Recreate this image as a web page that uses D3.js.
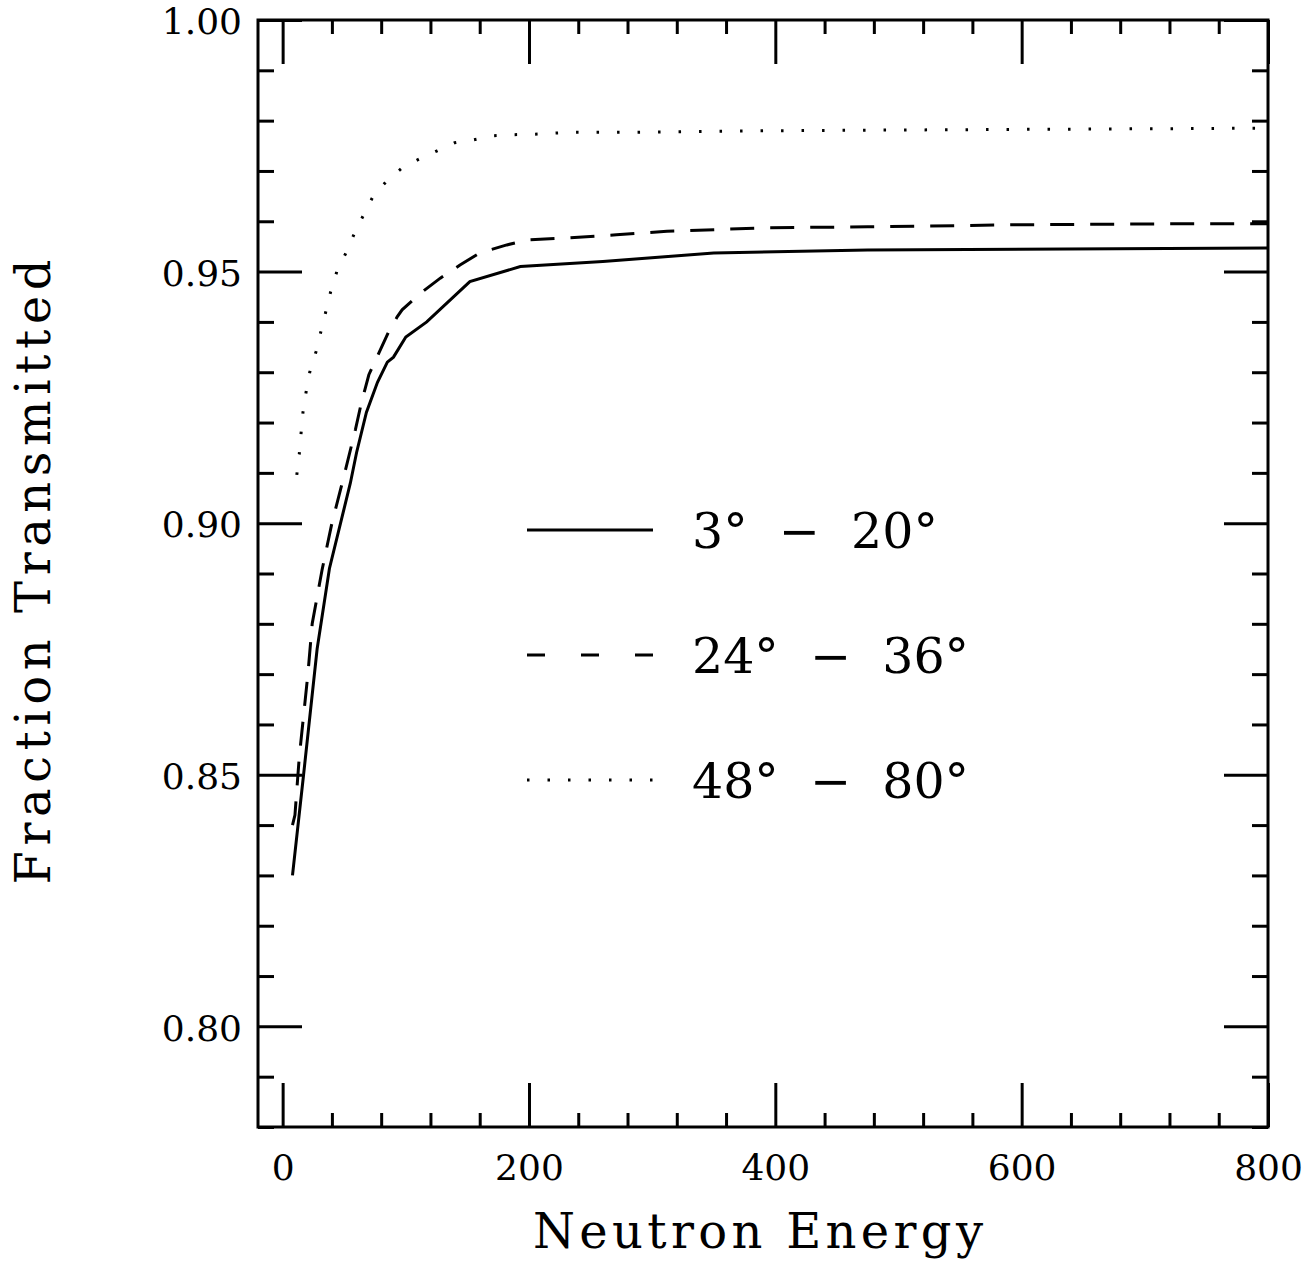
<!DOCTYPE html>
<html>
<head>
<meta charset="utf-8">
<script src="https://cdn.jsdelivr.net/npm/d3@7"></script>
<style>
  body { margin: 0; background: #fff; }
  svg { display: block; }
</style>
</head>
<body>
<div id="chart"></div>
<script>
// values
const energySolid = [8, 17, 28, 38, 50, 55, 60, 68, 77, 85, 90, 100, 117, 152, 193, 260, 350, 475, 800]
const fracSolid = [0.830, 0.850, 0.875, 0.891, 0.903, 0.908, 0.914, 0.922, 0.928, 0.932, 0.933, 0.937, 0.940, 0.948, 0.951, 0.952, 0.9537, 0.9543, 0.9547]

const energyDashed = [8, 10, 13.5, 20.5, 24, 32, 40, 49, 59, 64, 70, 77, 86, 93, 97, 112, 128, 144, 160, 182, 199, 231, 271, 312, 392, 475, 595, 719, 800]
const fracDashed = [0.840, 0.842, 0.8535, 0.870, 0.880, 0.8907, 0.900, 0.9086, 0.9185, 0.924, 0.9295, 0.9332, 0.938, 0.941, 0.9424, 0.9457, 0.9487, 0.9513, 0.9537, 0.9553, 0.9563, 0.9567, 0.9573, 0.958, 0.9587, 0.9589, 0.9593, 0.9595, 0.9595]

const energyDotted = [11.5, 13.5, 15, 16.5, 19, 22, 27, 31, 35, 39, 44, 52, 59, 66, 73.5, 84.5, 97, 111, 125.5, 139.5, 155, 171, 187, 203.5, 236, 288, 400, 550, 800]
const fracDotted = [0.9096, 0.9137, 0.918, 0.922, 0.926, 0.930, 0.934, 0.938, 0.942, 0.946, 0.950, 0.954, 0.958, 0.9614, 0.965, 0.968, 0.9706, 0.9724, 0.974, 0.9756, 0.9762, 0.977, 0.9772, 0.9773, 0.9777, 0.9777, 0.978, 0.9782, 0.9785]

const legendLabels = ['3°  −  20°', '24°  −  36°', '48°  −  80°']
const xMajorTicks = [0, 200, 400, 600, 800]
const yMajorTicks = [0.80, 0.85, 0.90, 0.95, 1.00]

const width = 1314
const height = 1262
const margin = { top: 20, left: 258, right: 46, bottom: 135 }

const svg = d3
  .select('#chart')
  .append('svg')
  .attr('width', width)
  .attr('height', height)

const xScale = d3
  .scaleLinear()
  .domain([-20, 800])
  .range([margin.left, width - margin.right])

const yScale = d3
  .scaleLinear()
  .domain([0.78, 1.0])
  .range([height - margin.bottom, margin.top])

const x0 = xScale.range()[0]
const x1 = xScale.range()[1]
const y0 = yScale.range()[0]
const y1 = yScale.range()[1]

const xMinor = d3.range(0, 801, 40).filter(d => d % 200 !== 0)
const yMinor = d3.range(78, 101, 1).map(d => d / 100).filter(d => Math.round(d * 100) % 5 !== 0)

// ticks on all four sides, pointing in
function drawAxis(axis, translate, labels) {
  const g = svg
    .append('g')
    .attr('transform', translate)
    .call(axis)
  g.select('.domain').remove()
  g.selectAll('.tick line').attr('stroke', '#000').attr('stroke-width', 3)
  if (!labels) g.selectAll('.tick text').remove()
  return g
}

drawAxis(d3.axisBottom(xScale).tickValues(xMinor).tickSize(-14), `translate(0,${y0})`)
drawAxis(d3.axisTop(xScale).tickValues(xMinor).tickSize(-14), `translate(0,${y1})`)
drawAxis(d3.axisTop(xScale).tickValues(xMajorTicks).tickSize(-44), `translate(0,${y1})`)
drawAxis(d3.axisLeft(yScale).tickValues(yMinor).tickSize(-16), `translate(${x0},0)`)
drawAxis(d3.axisRight(yScale).tickValues(yMinor).tickSize(-16), `translate(${x1},0)`)
drawAxis(d3.axisRight(yScale).tickValues(yMajorTicks).tickSize(-44), `translate(${x1},0)`)

const xAxis = drawAxis(
  d3.axisBottom(xScale).tickValues(xMajorTicks).tickSize(-44).tickPadding(27).tickFormat(d3.format('d')),
  `translate(0,${y0})`,
  true
)
xAxis
  .selectAll('.tick text')
  .attr('font-family', '"DejaVu Serif", serif')
  .attr('font-size', 36)
  .attr('fill', '#000')

const yAxis = drawAxis(
  d3.axisLeft(yScale).tickValues(yMajorTicks).tickSize(-44).tickPadding(16).tickFormat(d3.format('.2f')),
  `translate(${x0},0)`,
  true
)
yAxis
  .selectAll('.tick text')
  .attr('font-family', '"DejaVu Serif", serif')
  .attr('font-size', 36)
  .attr('dy', '0.38em')
  .attr('fill', '#000')

// frame
svg
  .append('rect')
  .attr('x', x0)
  .attr('y', y1)
  .attr('width', x1 - x0)
  .attr('height', y0 - y1)
  .attr('fill', 'none')
  .attr('stroke', '#000')
  .attr('stroke-width', 3)

const line = d3
  .line()
  .x(d => xScale(d[0]))
  .y(d => yScale(d[1]))

const series = [
  { e: energySolid, f: fracSolid, dash: null, legendDash: null },
  { e: energyDashed, f: fracDashed, dash: '24,16', legendDash: '18,36' },
  { e: energyDotted, f: fracDotted, dash: '2.5,18', legendDash: '2.5,18' }
]

series.forEach((s, i) => {
  svg
    .append('path')
    .datum(d3.zip(s.e, s.f))
    .attr('d', line)
    .attr('fill', 'none')
    .attr('stroke', '#000')
    .attr('stroke-width', 3)
    .attr('stroke-dasharray', s.dash)

  const ly = 530 + i * 125
  svg
    .append('line')
    .attr('x1', 527)
    .attr('x2', 653)
    .attr('y1', ly)
    .attr('y2', ly)
    .attr('stroke', '#000')
    .attr('stroke-width', 3)
    .attr('stroke-dasharray', s.legendDash)

  svg
    .append('text')
    .attr('x', 692)
    .attr('y', ly + 18)
    .attr('font-family', '"DejaVu Serif", serif')
    .attr('font-size', 49)
    .style('white-space', 'pre')
    .text(legendLabels[i])
})

// axis titles
svg
  .append('text')
  .attr('x', 758)
  .attr('y', 1248)
  .attr('text-anchor', 'middle')
  .attr('font-family', '"DejaVu Serif", serif')
  .attr('font-size', 48)
  .attr('textLength', 450)
  .attr('lengthAdjust', 'spacing')
  .text('Neutron Energy')

svg
  .append('text')
  .attr('transform', `translate(50,572) rotate(-90)`)
  .attr('text-anchor', 'middle')
  .attr('font-family', '"DejaVu Serif", serif')
  .attr('font-size', 48)
  .attr('textLength', 625)
  .attr('lengthAdjust', 'spacing')
  .text('Fraction Transmitted')
</script>
</body>
</html>
